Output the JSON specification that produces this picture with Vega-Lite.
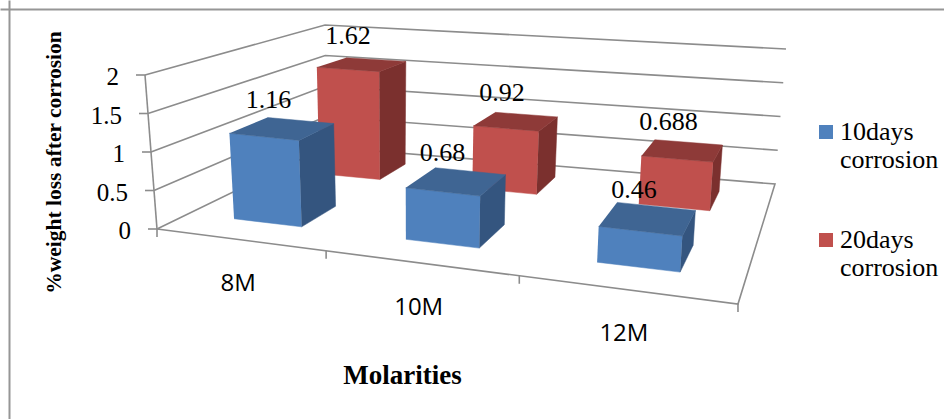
{
"$schema":"https://vega.github.io/schema/vega-lite/v6.json",
"width":944,"height":419,"padding":0,"autosize":{"type":"none"},
"background":"white",
"view":{"stroke":null},
"datasets":{
"bars":[
{"molarity":"8M","series":"20days corrosion","value":1.62},
{"molarity":"10M","series":"20days corrosion","value":0.92},
{"molarity":"12M","series":"20days corrosion","value":0.688},
{"molarity":"8M","series":"10days corrosion","value":1.16},
{"molarity":"10M","series":"10days corrosion","value":0.68},
{"molarity":"12M","series":"10days corrosion","value":0.46}
],
"ticks":[{"tick":0},{"tick":0.5},{"tick":1},{"tick":1.5},{"tick":2}],
"boundaries":[{"boundary":0},{"boundary":1},{"boundary":2},{"boundary":3}]
},
"encoding":{
"x":{"field":"px","type":"quantitative","scale":{"domain":[0,944],"range":[0,944]},
"axis":{"orient":"top","offset":-9,"domainColor":"#969696","domainWidth":2,"ticks":false,"labels":false,"grid":false,
"title":"Molarities","titleFont":"Liberation Serif","titleFontWeight":"bold","titleFontSize":27,"titleColor":"#000000","titleX":402,"titleY":366,"titleAlign":"center","titleBaseline":"middle","titleAnchor":null}},
"y":{"field":"py","type":"quantitative","scale":{"domain":[419,0],"range":[419,0],"reverse":false},
"axis":{"orient":"left","offset":-9,"domainColor":"#969696","domainWidth":2,"ticks":false,"labels":false,"grid":false,
"title":"%weight loss after corrosion","titleFont":"Liberation Serif","titleFontWeight":"bold","titleFontSize":21.5,"titleColor":"#000000","titleX":45,"titleY":162,"titleAngle":270,"titleAlign":"center","titleBaseline":"middle","titleAnchor":null}}
},
"layer":[
{"data":{"name":"ticks"},
"transform":[
{"calculate":"[0,1,2,3,4]","as":"corner"},{"flatten":["corner"]},
{"filter":"datum.corner<3||datum.tick==0"},
{"calculate":"[0,0,1,1,0][datum.corner]","as":"u"},
{"calculate":"[0,1,1,0,0][datum.corner]","as":"w"},
{"calculate":"datum.tick/2","as":"t"},
{"calculate":"(157+418.33*datum.u+270.76*datum.w)/(1-0.2204*datum.u+0.31215*datum.w)+datum.t*(-12+24*datum.u+11*datum.w-12*datum.u*datum.w)","as":"px"},
{"calculate":"(229+8*datum.u-36.11*datum.w)/(1-0.2204*datum.u+0.31215*datum.w)-datum.t*(154+12*datum.u-32*datum.w+datum.u*datum.w)","as":"py"}
],
"mark":{"type":"line","color":"#8C8C8C","strokeWidth":1.6},
"encoding":{"detail":{"field":"tick"},"order":{"field":"corner","type":"quantitative"}}},
{"data":{"name":"ticks"},
"transform":[
{"calculate":"datum.tick/2","as":"t"},
{"calculate":"157-12*datum.t","as":"px"},
{"calculate":"229-154*datum.t","as":"py"},
{"calculate":"datum.px-9","as":"px2"}
],
"mark":{"type":"rule","color":"#8C8C8C","strokeWidth":1.6},
"encoding":{"x2":{"field":"px2"}}},
{"data":{"name":"ticks"},
"transform":[
{"filter":"datum.tick==2"},
{"calculate":"145","as":"px"},
{"calculate":"75","as":"py"},
{"calculate":"157","as":"px2"},
{"calculate":"229","as":"py2"}
],
"mark":{"type":"rule","color":"#8C8C8C","strokeWidth":1.6},
"encoding":{"x2":{"field":"px2"},"y2":{"field":"py2"}}},
{"data":{"name":"boundaries"},
"transform":[
{"calculate":"[0,0.345,0.68,1][datum.boundary]","as":"u"},
{"calculate":"(157+418.33*datum.u)/(1-0.2204*datum.u)","as":"px"},
{"calculate":"(229+8*datum.u)/(1-0.2204*datum.u)","as":"py"},
{"calculate":"datum.py+8","as":"py2"}
],
"mark":{"type":"rule","color":"#8C8C8C","strokeWidth":1.6},
"encoding":{"y2":{"field":"py2"}}},
{"data":{"name":"bars"},
"transform":[
{"calculate":"indexof(['8M','10M','12M'],datum.molarity)","as":"i"},
{"calculate":"[0.10,0.447,0.777][datum.i]","as":"a"},
{"calculate":"[0.243,0.58,0.905][datum.i]","as":"b"},
{"calculate":"datum.series=='10days corrosion'?0.152:0.663","as":"c"},
{"calculate":"datum.series=='10days corrosion'?0.355:0.865","as":"d"},
{"calculate":"0.49*datum.value","as":"h"},
{"calculate":"['front','side','top']","as":"face"},{"flatten":["face"]},
{"calculate":"[0,1,2,3]","as":"corner"},{"flatten":["corner"]},
{"calculate":"datum.face=='side'?datum.b:[datum.a,datum.b,datum.b,datum.a][datum.corner]","as":"u"},
{"calculate":"datum.face=='front'?datum.c:(datum.face=='side'?[datum.c,datum.d,datum.d,datum.c][datum.corner]:[datum.c,datum.c,datum.d,datum.d][datum.corner])","as":"w"},
{"calculate":"datum.face=='top'?datum.h:[0,0,datum.h,datum.h][datum.corner]","as":"t"},
{"calculate":"datum.face=='front'?datum.series:datum.series+' '+datum.face","as":"shade"},
{"calculate":"datum.molarity+datum.series+datum.face","as":"id"},
{"calculate":"(157+418.33*datum.u+270.76*datum.w)/(1-0.2204*datum.u+0.31215*datum.w)+datum.t*(-12+24*datum.u+11*datum.w-12*datum.u*datum.w)","as":"px"},
{"calculate":"(229+8*datum.u-36.11*datum.w)/(1-0.2204*datum.u+0.31215*datum.w)-datum.t*(154+12*datum.u-32*datum.w+datum.u*datum.w)","as":"py"}
],
"mark":{"type":"line","strokeWidth":0.5},
"encoding":{
"detail":{"field":"id"},
"order":{"field":"corner","type":"quantitative"},
"fill":{"field":"shade","type":"nominal",
"scale":{"domain":["10days corrosion","20days corrosion","10days corrosion side","10days corrosion top","20days corrosion side","20days corrosion top"],"range":["#4F81BD","#C0504D","#34557F","#3F6593","#7B302E","#8E3A38"]},
"legend":{"values":["10days corrosion","20days corrosion"],"orient":"none","legendX":813,"legendY":119,"title":null,"symbolType":"square","symbolSize":196,"symbolStrokeWidth":0,"labelFont":"Liberation Serif","labelFontSize":26,"labelColor":"#000000","labelLimit":200,"labelOffset":1,"rowPadding":54,"labelExpr":"split(datum.label,' ')","labelLineHeight":31}},
"stroke":{"field":"shade","type":"nominal","scale":{"domain":["10days corrosion","20days corrosion","10days corrosion side","10days corrosion top","20days corrosion side","20days corrosion top"],"range":["#4F81BD","#C0504D","#34557F","#3F6593","#7B302E","#8E3A38"]},"legend":null}
}},
{"data":{"name":"ticks"},
"transform":[
{"calculate":"datum.tick/2","as":"t"},
{"calculate":"157-12*datum.t","as":"px"},
{"calculate":"229-154*datum.t","as":"py"}
],
"mark":{"type":"text","font":"Liberation Serif","fontSize":25,"align":"right","baseline":"middle","dx":-26,"dy":2,"color":"#000000"},
"encoding":{"text":{"field":"tick","type":"nominal"}}},
{"data":{"name":"bars"},
"transform":[
{"filter":"datum.series=='10days corrosion'"},
{"calculate":"[0.1725,0.5125,0.84][indexof(['8M','10M','12M'],datum.molarity)]","as":"u"},
{"calculate":"(157+418.33*datum.u)/(1-0.2204*datum.u)","as":"px"},
{"calculate":"(229+8*datum.u)/(1-0.2204*datum.u)","as":"py"}
],
"mark":{"type":"text","font":"Open Sans","fontSize":24,"align":"center","baseline":"middle","dy":45,"color":"#000000"},
"encoding":{"text":{"field":"molarity","type":"nominal"}}},
{"data":{"name":"bars"},
"transform":[
{"calculate":"[0.1715,0.5135,0.841][indexof(['8M','10M','12M'],datum.molarity)]","as":"u"},
{"calculate":"datum.series=='10days corrosion'?0.2535:0.764","as":"w"},
{"calculate":"0.49*datum.value","as":"t"},
{"calculate":"(157+418.33*datum.u+270.76*datum.w)/(1-0.2204*datum.u+0.31215*datum.w)+datum.t*(-12+24*datum.u+11*datum.w-12*datum.u*datum.w)","as":"px"},
{"calculate":"(229+8*datum.u-36.11*datum.w)/(1-0.2204*datum.u+0.31215*datum.w)-datum.t*(154+12*datum.u-32*datum.w+datum.u*datum.w)","as":"py"}
],
"mark":{"type":"text","font":"Liberation Serif","fontSize":26,"align":"center","baseline":"middle","dx":-14,"dy":-28,"color":"#000000"},
"encoding":{"text":{"field":"value","type":"nominal"}}}
]
}
